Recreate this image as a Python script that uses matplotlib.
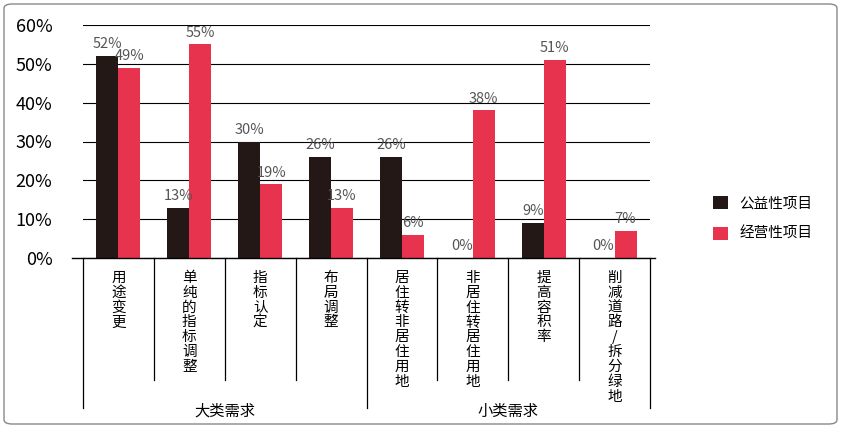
import matplotlib
matplotlib.use("Agg")
import matplotlib.pyplot as plt
from matplotlib.patches import FancyBboxPatch
from matplotlib.transforms import blended_transform_factory

plt.rcParams["font.family"] = "Noto Sans CJK SC"

categories = ["用途变更", "单纯的指标调整", "指标认定", "布局调整",
              "居住转非居住用地", "非居住转居住用地", "提高容积率", "削减道路/拆分绿地"]
public_vals = [52, 13, 30, 26, 26, 0, 9, 0]
business_vals = [49, 55, 19, 13, 6, 38, 51, 7]
series_names = ["公益性项目", "经营性项目"]
groups = ["大类需求", "小类需求"]

DARK = "#231815"
RED = "#e8334f"

W, H = 841, 428
fig = plt.figure(figsize=(W / 100, H / 100), dpi=100)
ax = fig.add_axes([83 / W, 1 - 258 / H, (650 - 83) / W, (258 - 25) / H])

n = len(categories)
bw = 0.31
xs = list(range(n))
ax.bar([x - bw / 2 for x in xs], public_vals, width=bw, color=DARK, label=series_names[0], zorder=3)
ax.bar([x + bw / 2 for x in xs], business_vals, width=bw, color=RED, label=series_names[1], zorder=3)

for x, v in zip(xs, public_vals):
    ax.text(x - bw / 2, v + 1.2, f"{v}%", ha="center", va="bottom", fontsize=10.5, color="#555555", zorder=4)
for x, v in zip(xs, business_vals):
    ax.text(x + bw / 2, v + 1.2, f"{v}%", ha="center", va="bottom", fontsize=10.5, color="#555555", zorder=4)

ax.set_xlim(-0.5, n - 0.5)
ax.set_ylim(0, 60)
ax.set_yticks(range(0, 61, 10))
ax.set_yticklabels([f"{t}%" for t in range(0, 61, 10)], fontsize=13)
ax.yaxis.grid(True, color="black", linewidth=0.8, zorder=0)
ax.tick_params(axis="y", length=0, pad=22)
ax.set_xticks([])
for s in ["top", "right", "left"]:
    ax.spines[s].set_visible(False)
ax.spines["bottom"].set_visible(False)

# baseline slightly wider than the plot
ax.plot([-0.66, n - 0.43], [0, 0], color="black", lw=1, clip_on=False, zorder=5)

tr = blended_transform_factory(ax.transData, ax.transAxes)
long_y = -(408 - 258) / 233
short_y = -(380 - 258) / 233
for i in range(n + 1):
    xb = i - 0.5
    y_end = long_y if i in (0, 4, n) else short_y
    ax.plot([xb, xb], [0, y_end], color="black", lw=0.9, transform=tr, clip_on=False)

for x, c in zip(xs, categories):
    ax.text(x, -0.055, "\n".join(c), transform=tr, ha="center", va="top",
            fontsize=10.5, linespacing=1.08)

ax.text(1.5, -(411 - 258) / 233, groups[0], transform=tr, ha="center", va="center", fontsize=11)
ax.text(5.5, -(411 - 258) / 233, groups[1], transform=tr, ha="center", va="center", fontsize=11)

fig.legend(loc="upper left", bbox_to_anchor=(700 / W, 1 - 183 / H), frameon=False,
           fontsize=10.5, handlelength=1.0, handleheight=1.0, labelspacing=1.1)

border = FancyBboxPatch((4 / W, 4 / H), 833 / W, 420 / H, boxstyle="round,pad=0,rounding_size=0.01",
                        transform=fig.transFigure, fill=False, edgecolor="#888888", lw=1)
fig.patches.append(border)

fig.savefig("out.png", dpi=100)
